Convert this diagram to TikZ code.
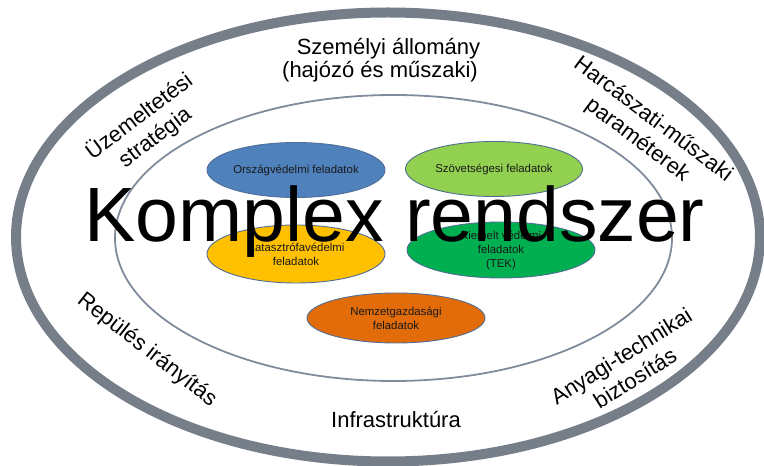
\documentclass[tikz,border=0pt]{standalone}
\usepackage{fontspec}
\setmainfont{Liberation Sans}
\usetikzlibrary{shapes.geometric}
\definecolor{ringgray}{RGB}{118,127,137}
\definecolor{innergray}{RGB}{128,140,156}
\definecolor{shapeline}{RGB}{80,110,150}
\definecolor{cblue}{RGB}{79,129,189}
\definecolor{clgreen}{RGB}{146,208,80}
\definecolor{cyellow}{RGB}{255,192,0}
\definecolor{cgreen}{RGB}{0,176,80}
\definecolor{corange}{RGB}{226,108,10}
\tikzset{
  task/.style={ellipse, draw=shapeline, line width=0.9pt, inner sep=0pt,
    align=center, text=black!90, font=\fontsize{11.4}{14}\selectfont},
  ringtext/.style={align=center, text=black, font=\fontsize{22}{26}\selectfont, inner sep=0pt},
}
\begin{document}
\begin{tikzpicture}[x=1pt,y=1pt]
\useasboundingbox (0,0) rectangle (764,466);
% rings
\node[draw=ringgray, line width=10pt, ellipse, minimum width=744pt, minimum height=449pt, inner sep=0pt] (outer) at (388,229) {};
\node[draw=innergray, line width=1.8pt, ellipse, minimum width=557pt, minimum height=286pt, inner sep=0pt] (inner) at (393.5,228) {};
% task ellipses
\node[task, fill=cblue, minimum width=178pt, minimum height=55pt] (orszag) at (296,296) {Országvédelmi feladatok};
\node[task, fill=clgreen, minimum width=177pt, minimum height=55pt] (szov) at (494,297) {Szövetségesi feladatok};
\node[task, fill=cyellow, minimum width=178pt, minimum height=58pt] (kat) at (296,212) {Katasztrófavédelmi\\feladatok};
\node[task, fill=cgreen, minimum width=188pt, minimum height=56pt] (tek) at (501,216) {Kiemelt védelmi\\feladatok\\(TEK)};
\node[task, fill=corange, minimum width=178pt, minimum height=50pt] (nemz) at (396,148) {Nemzetgazdasági\\feladatok};
% ring labels
\node[ringtext, anchor=base] (szem1) at (388.5,411) {Személyi állomány};
\node[ringtext, anchor=base] (szem2) at (380,388) {(hajózó és műszaki)};
\node[ringtext, rotate=37] (uzem) at (147,339) {Üzemeltetési\\stratégia};
\node[ringtext, rotate=-37] (harc) at (645,336) {Harcászati-műszaki\\paraméterek};
\node[ringtext, rotate=-38] (rep) at (147,116) {Repülés irányítás};
\node[ringtext, rotate=32] (anyag) at (628,99) {Anyagi-technikai\\biztosítás};
\node[ringtext, anchor=base] (infra) at (396,38) {Infrastruktúra};
% title on top
\node[inner sep=0pt, anchor=base, font=\fontsize{77}{80}\selectfont] (title) at (394.5,224) {Komplex rendszer};
\end{tikzpicture}
\end{document}
